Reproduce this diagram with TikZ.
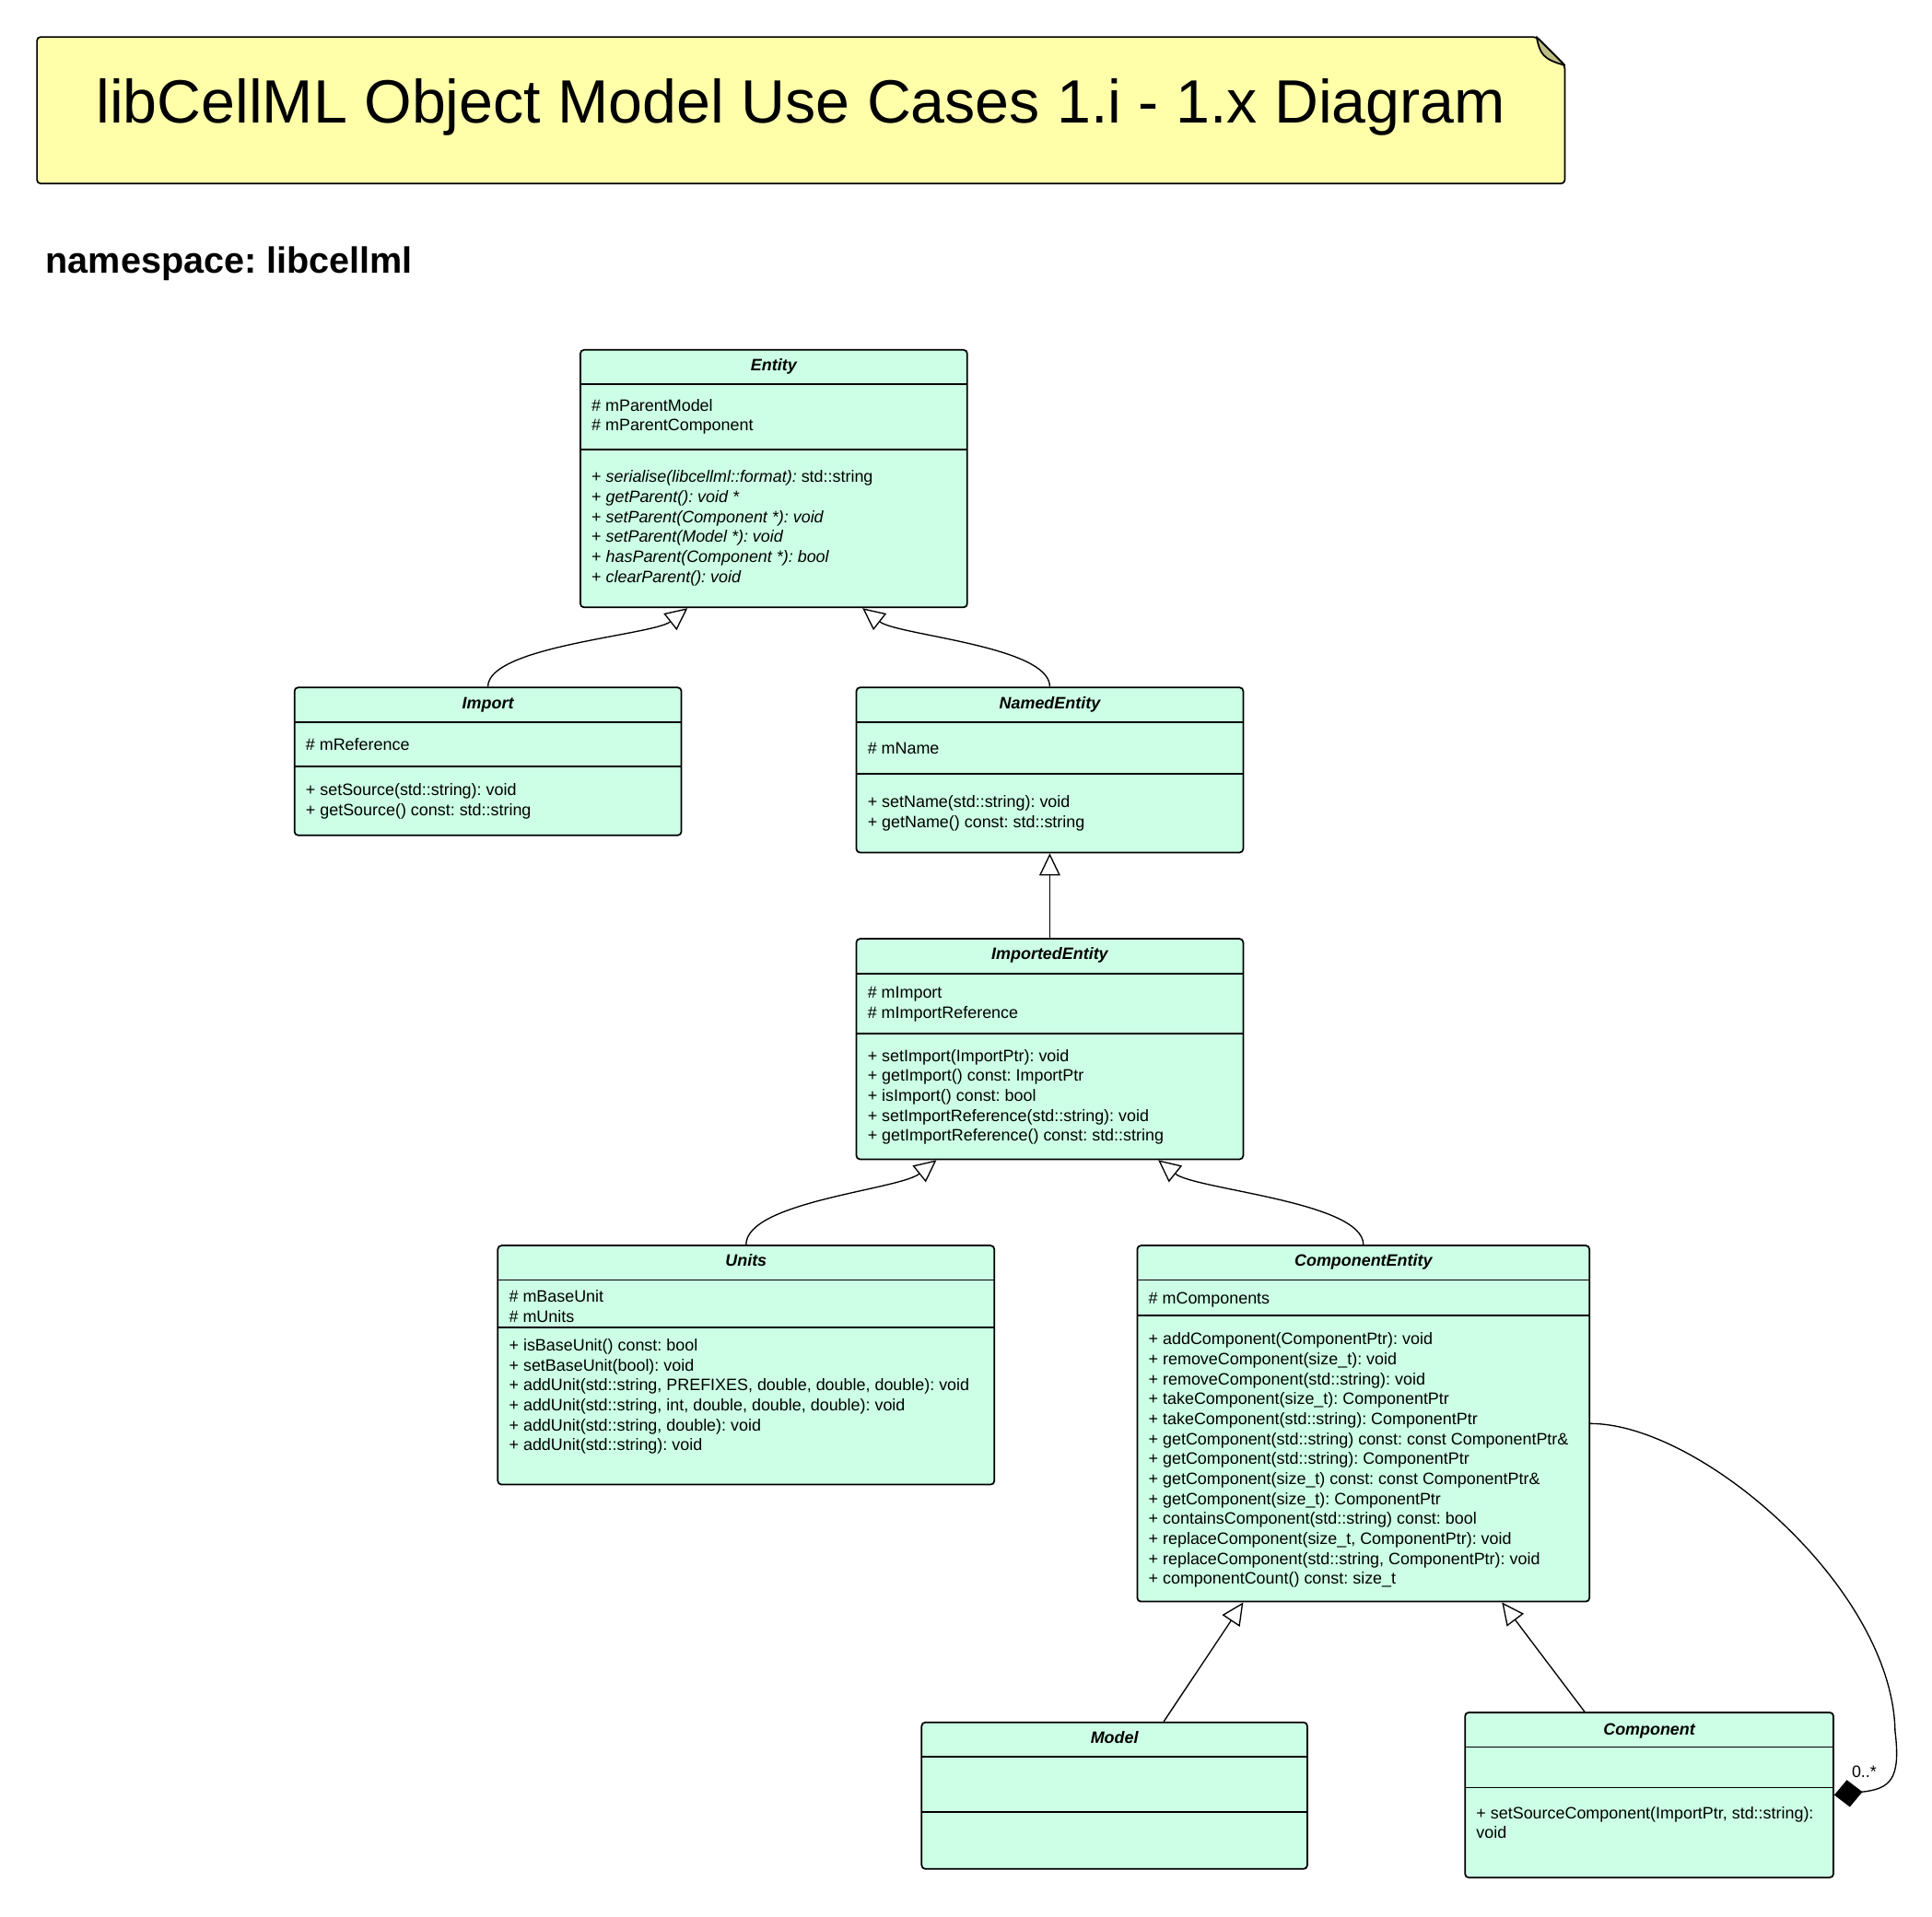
\documentclass[tikz,border=0pt]{standalone}
\usepackage{fontspec}
\setmainfont{Liberation Sans}
\usetikzlibrary{arrows.meta}
\definecolor{classfill}{RGB}{204,255,229}
\definecolor{notefill}{RGB}{255,255,170}
\definecolor{notefold}{RGB}{190,190,132}
\newcommand{\memfont}{\fontsize{13.4}{16.2}\selectfont}
\frenchspacing

\begin{document}
\begin{tikzpicture}[x=1pt, y=-1pt,
    classbox/.style={draw, line width=1.3pt, rounded corners=3pt, fill=classfill, inner sep=0pt},
    classname/.style={anchor=base, font=\memfont\bfseries\itshape},
    members/.style={anchor=north west, inner sep=0pt, align=left, font=\memfont, execute at begin node=\strut},
    sep/.style={line width=1.3pt},
    inherit/.style={-{Triangle[open, length=18pt, width=17pt]}, line width=1pt},
    compose/.style={{Diamond[length=23pt, width=22pt]}-, line width=1pt}]
    \useasboundingbox (0,0) rectangle (1568,1555.3);
    % title note
    \draw[line width=1.3pt, fill=notefill, rounded corners=3pt] (30,30) -- (1247,30) -- (1270,53) -- (1270,149) -- (30,149) -- cycle;
    \draw[line width=1.3pt, fill=notefold, line join=round] (1247,30) .. controls (1250,44) and (1252,48) .. (1270,53) -- cycle;
    \node[anchor=base, font=\fontsize{49.6}{58}\selectfont] (title) at (650,100) {libCellML Object Model Use Cases 1.i - 1.x Diagram};
    \node[anchor=base west, inner sep=0pt, font=\fontsize{29.6}{34}\selectfont\bfseries] (namespace) at (37,222) {namespace: libcellml};
    % Entity
    \node[classbox, minimum width=314pt, minimum height=209pt] (entity) at (628,388.5) {};
    \draw[sep] (471,312) -- (785,312);
    \draw[sep] (471,365) -- (785,365);
    \node[classname] (entityname) at (628,301) {Entity};
    \node[members] (entityattr) at (480,323.7) {\# mParentModel\\\# mParentComponent};
    \node[members] (entityops) at (480,381.7) {+ \textit{serialise(libcellml::format):} std::string\\+ \textit{getParent(): void *}\\+ \textit{setParent(Component *): void}\\+ \textit{setParent(Model *): void}\\+ \textit{hasParent(Component *): bool}\\+ \textit{clearParent(): void}};
    % Import
    \node[classbox, minimum width=314pt, minimum height=120pt] (import) at (396,618) {};
    \draw[sep] (239,586) -- (553,586);
    \draw[sep] (239,622) -- (553,622);
    \node[classname] (importname) at (396,575) {Import};
    \node[members] (importattr) at (248,597.2) {\# mReference};
    \node[members] (importops) at (248,635.7) {+ setSource(std::string): void\\+ getSource() const: std::string};
    % NamedEntity
    \node[classbox, minimum width=314pt, minimum height=134pt] (namedentity) at (852,625) {};
    \draw[sep] (695,586) -- (1009,586);
    \draw[sep] (695,628) -- (1009,628);
    \node[classname] (namedentityname) at (852,575) {NamedEntity};
    \node[members] (namedentityattr) at (704,600.2) {\# mName};
    \node[members] (namedentityops) at (704,645.7) {+ setName(std::string): void\\+ getName() const: std::string};
    % ImportedEntity
    \node[classbox, minimum width=314pt, minimum height=179pt] (importedentity) at (852,851.5) {};
    \draw[sep] (695,790.3) -- (1009,790.3);
    \draw[sep] (695,839) -- (1009,839);
    \node[classname] (importedentityname) at (852,779) {ImportedEntity};
    \node[members] (importedentityattr) at (704,800.7) {\# mImport\\\# mImportReference};
    \node[members] (importedentityops) at (704,851.7) {+ setImport(ImportPtr): void\\+ getImport() const: ImportPtr\\+ isImport() const: bool\\+ setImportReference(std::string): void\\+ getImportReference() const: std::string};
    % Units
    \node[classbox, minimum width=403pt, minimum height=194pt] (units) at (605.5,1108) {};
    \draw[sep] (404,1039) -- (807,1039);
    \draw[sep] (404,1077.3) -- (807,1077.3);
    \node[classname] (unitsname) at (605.5,1028) {Units};
    \node[members] (unitsattr) at (413,1047.2) {\# mBaseUnit\\\# mUnits};
    \node[members] (unitsops) at (413,1086.7) {+ isBaseUnit() const: bool\\+ setBaseUnit(bool): void\\+ addUnit(std::string, PREFIXES, double, double, double): void\\+ addUnit(std::string, int, double, double, double): void\\+ addUnit(std::string, double): void\\+ addUnit(std::string): void};
    % ComponentEntity
    \node[classbox, minimum width=367pt, minimum height=289pt] (compentity) at (1106.5,1155.5) {};
    \draw[sep] (923,1039) -- (1290,1039);
    \draw[sep] (923,1068) -- (1290,1068);
    \node[classname] (compentityname) at (1106.5,1028) {ComponentEntity};
    \node[members] (compentityattr) at (932,1047.2) {\# mComponents};
    \node[members] (compentityops) at (932,1081.7) {+ addComponent(ComponentPtr): void\\+ removeComponent(size\_t): void\\+ removeComponent(std::string): void\\+ takeComponent(size\_t): ComponentPtr\\+ takeComponent(std::string): ComponentPtr\\+ getComponent(std::string) const: const ComponentPtr\&\\+ getComponent(std::string): ComponentPtr\\+ getComponent(size\_t) const: const ComponentPtr\&\\+ getComponent(size\_t): ComponentPtr\\+ containsComponent(std::string) const: bool\\+ replaceComponent(size\_t, ComponentPtr): void\\+ replaceComponent(std::string, ComponentPtr): void\\+ componentCount() const: size\_t};
    % Model
    \node[classbox, minimum width=313pt, minimum height=119pt] (model) at (904.5,1457.5) {};
    \draw[sep] (748,1426) -- (1061,1426);
    \draw[sep] (748,1471) -- (1061,1471);
    \node[classname] (modelname) at (904.5,1415) {Model};
    % Component
    \node[classbox, minimum width=299pt, minimum height=134pt] (component) at (1338.5,1457) {};
    \draw[sep] (1189,1418) -- (1488,1418);
    \draw[sep] (1189,1451) -- (1488,1451);
    \node[classname] (componentname) at (1338.5,1408) {Component};
    \node[members] (componentops) at (1198,1466.2) {+ setSourceComponent(ImportPtr, std::string):\\void};
    % generalisations
    \draw[inherit] (import.north) .. controls +(0,-33) and +(-28,22) .. ([xshift=-70pt]entity.south);
    \draw[inherit] (namedentity.north) .. controls +(0,-33) and +(28,22) .. ([xshift=72pt]entity.south);
    \draw[inherit] (importedentity.north) -- (namedentity.south);
    \draw[inherit] (units.north) .. controls +(0,-35) and +(-30,24) .. ([xshift=-92pt]importedentity.south);
    \draw[inherit] (compentity.north) .. controls +(0,-35) and +(30,24) .. ([xshift=88pt]importedentity.south);
    \draw[inherit] ([xshift=40pt]model.north) -- ([xshift=-97.5pt]compentity.south);
    \draw[inherit] ([xshift=-52.5pt]component.north) -- ([xshift=112.5pt]compentity.south);
    % composition
    \coordinate (loop) at (1538,1405);
    \draw[compose] (component.east) .. controls +(45,-5) and +(5,40) .. (loop) .. controls +(-2,-115) and +(90,0) .. (compentity.east);
    \node[font=\memfont] (mult) at (1513,1438) {0..*};
\end{tikzpicture}
\end{document}
